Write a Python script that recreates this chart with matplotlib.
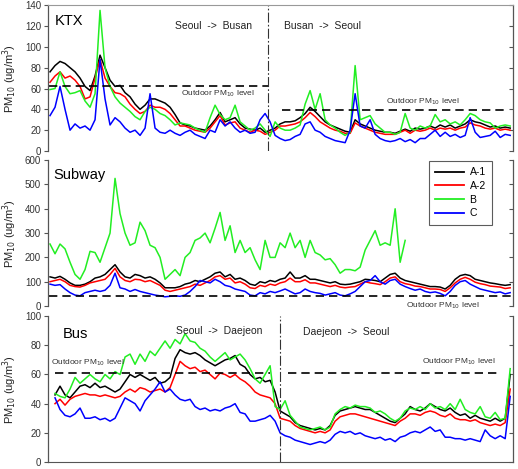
import matplotlib
matplotlib.use("Agg")
import matplotlib.pyplot as plt
from matplotlib.lines import Line2D
import numpy as np

plt.rcParams['font.family'] = ['Liberation Sans', 'DejaVu Sans']

series_names = ["A-1", "A-2", "B", "C"]
series_colors = ["#000000", "#ff0000", "#22ee22", "#0000ff"]

# ---- KTX (top) ----
ktx_A1 = [76,82,86,84,80,76,70,62,58,72, 92,80,68,62,63,56,52,45,40,44, 50,50,48,46,42,35,27,25,24,22,
          21,20,24,30,37,28,30,32,26,22, 21,20,22,18,20,
          22,26,28,28,29,32,36,42,38,33, 28,25,23,21,19,18,30,26,24,22, 20,19,18,18,17,19,21,19,22,21,
          22,24,22,25,23,25,22,24,26,30, 28,27,25,23,24,22,23,22]
ktx_A2 = [66,72,76,70,72,68,62,50,52,70, 88,70,62,56,55,52,45,40,36,38, 44,42,42,40,36,30,24,24,22,20,
          19,18,22,28,34,25,27,28,22,20, 18,20,19,16,18,
          20,24,24,25,26,28,32,37,33,28, 25,22,20,19,17,17,27,24,22,20, 18,17,16,16,16,18,20,17,20,19,
          20,22,20,22,21,22,20,22,23,27, 25,24,22,21,22,20,21,20]
ktx_B = [59,60,76,62,55,56,58,48,42,55, 135,80,62,52,46,42,38,33,30,38, 42,40,36,34,30,25,27,26,25,22,
         20,18,32,44,35,30,32,44,28,24, 20,22,26,20,14,
         28,22,20,20,22,25,45,58,40,55, 30,25,22,18,15,18,82,30,32,34, 26,22,18,18,16,18,36,22,20,24,
         22,24,35,28,30,26,28,25,30,36, 34,30,28,27,22,24,25,24]
ktx_C = [34,42,62,40,20,26,22,24,20,30, 88,50,25,32,28,22,18,20,15,22, 55,22,18,17,20,17,15,18,20,16,
         14,12,20,18,30,24,28,22,18,20, 17,18,30,36,28,
         15,12,10,11,14,16,26,28,20,18, 14,12,10,9,8,20,55,24,22,30, 16,12,10,9,10,12,9,11,8,12,
         12,16,20,14,18,14,16,13,15,32, 18,13,14,15,19,13,16,15]

# ---- Subway (middle) ----
sub_A1 = [120,115,122,110,95,85,85,90,100,115, 120,130,150,170,140,120,115,130,125,115,
          120,110,95,75,75,75,80,90,95,105, 100,110,120,135,140,120,130,110,115,105,
          90,85,100,95,105,100,110,115,140,115, 115,125,110,110,105,100,95,100,90,88,
          90,95,100,110,108,105,100,115,130,135, 115,105,100,95,90,85,80,80,78,70,
          85,110,125,130,125,110,105,100,95,92, 88,85,88]
sub_A2 = [100,105,110,100,85,80,78,85,95,100, 105,110,130,155,120,105,100,110,108,100,
          105,95,85,65,60,65,70,75,80,90, 85,95,105,120,125,110,115,95,100,90,
          75,72,85,80,90,85,95,100,115,100, 100,108,95,95,90,85,80,85,78,75,
          78,80,90,100,95,92,88,100,115,120, 100,92,88,82,80,75,70,70,68,60,
          75,95,110,118,110,98,92,88,82,80, 78,72,75]
sub_B = [255,215,255,235,180,130,110,150,225,220, 180,240,300,525,380,300,250,260,345,310,
         250,240,200,110,130,150,125,200,220,270, 280,300,260,320,385,270,330,220,270,220,
         240,190,150,270,200,200,260,240,300,240, 270,200,270,220,210,190,195,170,135,150,
         150,145,160,230,270,310,250,260,250,400, 180,270]
sub_C = [90,85,88,70,55,45,42,55,60,65, 60,65,85,135,75,70,60,68,60,55,
         50,45,42,38,40,42,40,45,60,80, 105,100,95,110,100,85,80,70,65,60,
         45,42,55,50,60,55,62,70,60,50, 55,70,60,55,52,45,50,55,45,42,
         50,60,80,100,105,125,100,90,105,110, 90,80,72,65,70,60,55,58,52,42,
         60,85,100,105,90,80,70,65,60,55, 58,50,55]

# ---- Bus (bottom) ----
bus_A1 = [46,52,46,44,48,52,53,51,54,51, 52,50,48,50,55,60,58,60,58,56, 58,54,55,58,71,77,75,74,75,73,
          70,68,66,68,70,71,73,67,65,60, 57,58,55,56,
          48,35,33,31,27,25,24,23,22,23, 22,25,32,35,36,37,38,37,36,36, 34,32,30,28,27,30,33,38,36,35,
          37,40,38,36,35,37,34,32,33,30, 32,30,29,28,30,28,30,60]
bus_A2 = [40,43,39,43,45,46,47,46,46,45, 46,45,44,45,48,50,48,51,50,48, 49,50,48,51,60,69,66,64,65,62,
          63,60,57,61,60,58,60,57,55,52, 48,46,45,44,
          40,30,29,28,25,23,22,21,20,21, 20,22,28,31,32,33,33,32,31,30, 29,28,27,26,25,28,30,33,33,32,
          34,35,34,32,31,33,30,29,29,28, 29,27,26,25,26,25,27,50]
bus_B = [47,45,44,50,58,54,57,60,57,55, 60,57,62,60,72,74,67,74,69,76, 73,78,83,78,84,81,88,83,82,78,
         76,72,69,72,75,70,72,74,70,64, 57,54,60,66,
         38,36,42,32,28,24,23,22,23,24, 22,24,33,36,38,37,39,38,38,37, 34,35,33,30,28,30,35,37,36,38,
         36,40,37,38,36,40,36,43,36,34, 33,38,31,30,34,29,30,64]
bus_C = [44,36,32,31,33,37,30,30,31,29, 30,28,30,37,44,42,40,35,42,46, 50,55,48,50,46,43,42,43,38,36,
         37,35,36,35,37,38,40,34,33,28, 28,29,30,32,
         28,20,18,17,15,14,13,12,13,14, 13,15,19,21,20,21,19,20,18,17, 16,17,15,16,14,17,18,20,21,20,
         22,24,21,22,17,17,16,16,15,16, 15,14,22,18,16,18,16,45]

outdoor = {"ktx": (62, 39), "sub": 40, "bus": (61, 61)}

fig = plt.figure(figsize=(5.18, 4.69), dpi=100)
L, W, H = 0.0927, 0.898, 0.311
ax1 = fig.add_axes([L, 0.678, W, H])
ax2 = fig.add_axes([L, 0.3475, W, H])
ax3 = fig.add_axes([L, 0.0149, W, H])

XL = (-0.4, 92.6)
spc = "#555555"

def style(ax, ylim, yticks, show_top, show_bottom):
    ax.set_xlim(*XL)
    ax.set_ylim(*ylim)
    ax.set_yticks(yticks)
    ax.set_xticks([])
    for s in ["left", "right"]:
        ax.spines[s].set_color(spc)
        ax.spines[s].set_linewidth(0.9)
    ax.spines["top"].set_visible(show_top)
    ax.spines["top"].set_color("#999999")
    ax.spines["bottom"].set_visible(show_bottom)
    ax.spines["bottom"].set_color(spc)
    ax.tick_params(axis="y", which="both", left=True, right=True, labelsize=7,
                   labelcolor="#333333", color=spc, length=3, width=0.8, pad=2)
    ax.yaxis.set_tick_params(which="both", direction="out")
    ax.set_ylabel("PM$_{10}$ (ug/m$^3$)", fontsize=8, labelpad=4, color="#222222")

def plot_series(ax, data, start):
    for d, c in zip(data, series_colors):
        x = np.arange(len(d)) + start
        ax.plot(x, d, color=c, lw=1.1, solid_joinstyle="round")

style(ax1, (0, 140), range(0, 141, 20), True, False)
style(ax2, (0, 600), range(0, 601, 100), False, False)
style(ax3, (0, 100), range(0, 101, 20), False, True)

# right ticks inward
for ax in (ax1, ax2, ax3):
    for t in ax.yaxis.get_major_ticks():
        t.tick2line.set_marker(matplotlib.lines.TICKLEFT)

plot_series(ax1, [ktx_A1, ktx_A2, ktx_B, ktx_C], 0)
plot_series(ax2, [sub_A1, sub_A2, sub_B, sub_C], 0)
plot_series(ax3, [bus_A1, bus_A2, bus_B, bus_C], 1)

dash = dict(color="black", lw=1.2, linestyle=(0, (5, 3)))
ax1.hlines(outdoor["ktx"][0], -0.2, 43.6, **dash)
ax1.hlines(outdoor["ktx"][1], 46.4, 91.6, **dash)
ax2.hlines(outdoor["sub"], -0.3, 92.6, **dash)
ax3.hlines(outdoor["bus"][0], 1.0, 44.0, **dash)
ax3.hlines(outdoor["bus"][1], 47.6, 90.0, **dash)

vl = dict(color="#333333", lw=0.8, linestyle=(0, (9, 2, 1.5, 2)))
ax1.axvline(43.6, **vl)
ax3.axvline(46.0, **vl)

# texts
ax1.text(0.015, 0.89, "KTX", transform=ax1.transAxes, fontsize=10.5, va="center")
ax1.text(0.355, 0.856, "Seoul  ->  Busan", transform=ax1.transAxes, fontsize=7.5, ha="center", va="center", color="#222222")
ax1.text(0.589, 0.856, "Busan  ->  Seoul", transform=ax1.transAxes, fontsize=7.5, ha="center", va="center", color="#222222")
ax1.text(0.366, 0.39, "Outdoor PM$_{10}$ level", transform=ax1.transAxes, fontsize=6, ha="center", va="center", color="#333333")
ax1.text(0.806, 0.336, "Outdoor PM$_{10}$ level", transform=ax1.transAxes, fontsize=6, ha="center", va="center", color="#333333")

ax2.text(0.011, 0.897, "Subway", transform=ax2.transAxes, fontsize=10.5, va="center")
ax2.text(0.849, 0.005, "Outdoor PM$_{10}$ level", transform=ax2.transAxes, fontsize=6, ha="center", va="center", color="#333333", clip_on=False)

ax3.text(0.032, 0.877, "Bus", transform=ax3.transAxes, fontsize=10.5, va="center")
ax3.text(0.368, 0.897, "Seoul  ->  Daejeon", transform=ax3.transAxes, fontsize=7.5, ha="center", va="center", color="#222222")
ax3.text(0.641, 0.89, "Daejeon  ->  Seoul", transform=ax3.transAxes, fontsize=7.5, ha="center", va="center", color="#222222")
ax3.text(0.086, 0.678, "Outdoor PM$_{10}$ level", transform=ax3.transAxes, fontsize=6, ha="center", va="center", color="#333333")
ax3.text(0.884, 0.685, "Outdoor PM$_{10}$ level", transform=ax3.transAxes, fontsize=6, ha="center", va="center", color="#333333")

handles = [Line2D([], [], color=c, lw=1.3) for c in series_colors]
leg = ax2.legend(handles, series_names, loc="upper left", bbox_to_anchor=(0.819, 0.993),
                 fontsize=7.5, frameon=True, fancybox=False, handlelength=2.8,
                 borderpad=0.6, labelspacing=0.35, handletextpad=0.5, borderaxespad=0)
leg.get_frame().set_edgecolor("#333333")
leg.get_frame().set_linewidth(0.8)

fig.savefig("out.png", dpi=100)
